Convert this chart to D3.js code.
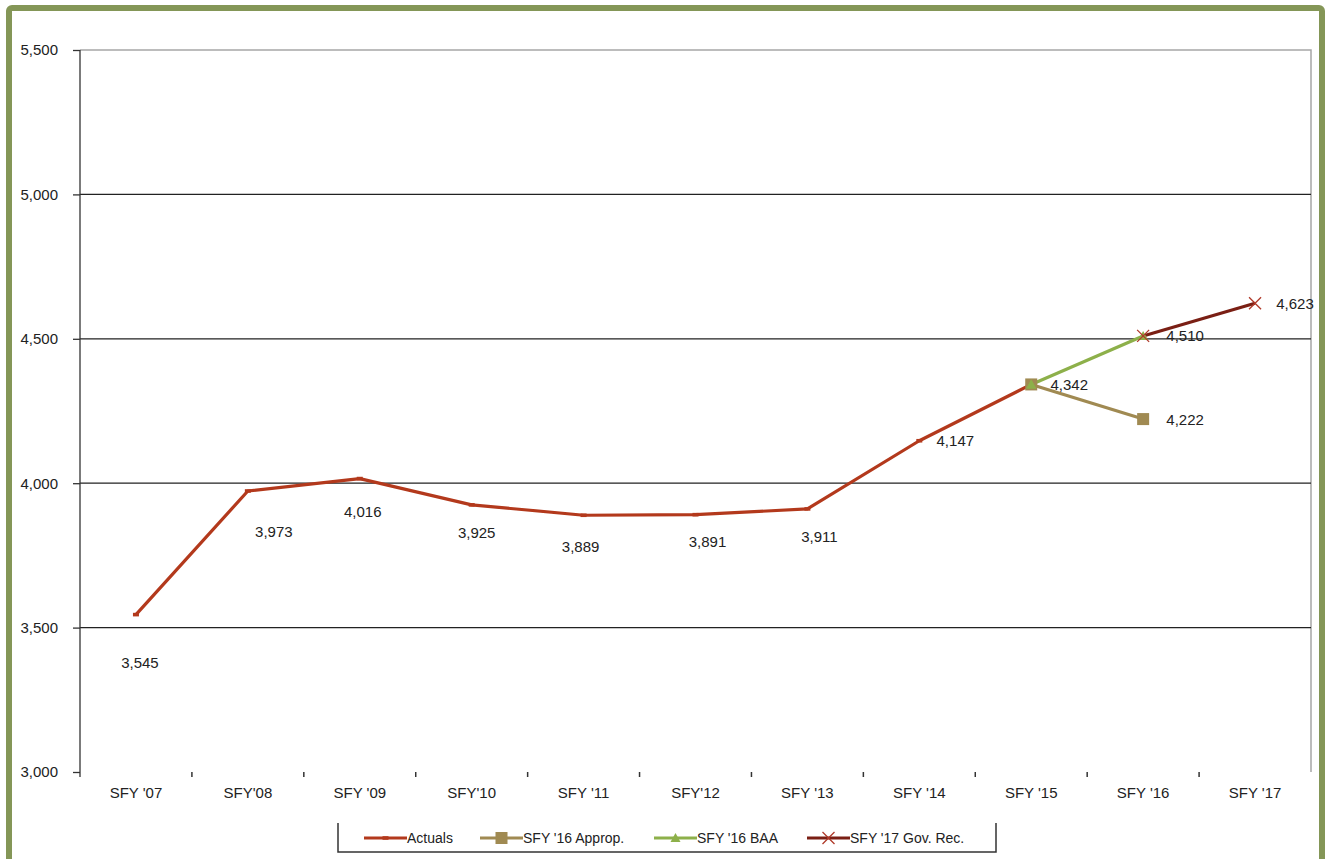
<!DOCTYPE html>
<html><head><meta charset="utf-8">
<script src="https://cdn.jsdelivr.net/npm/d3@7/dist/d3.min.js"></script>
<style>body{margin:0;background:#fff;}svg{display:block;font-family:"Liberation Sans",Arial,sans-serif;}</style>
</head><body>
<svg id="c" width="1328" height="859"></svg>
<script>
const categories = ["SFY '07","SFY'08","SFY '09","SFY'10","SFY '11","SFY'12","SFY '13","SFY '14","SFY '15","SFY '16","SFY '17"];
const actuals = [3545,3973,4016,3925,3889,3891,3911,4147,4342,null,null];
const approp = [null,null,null,null,null,null,null,null,4342,4222,null];
const baa = [null,null,null,null,null,null,null,null,4342,4510,null];
const govRec = [null,null,null,null,null,null,null,null,null,4510,4623];
const yTicks = [3000,3500,4000,4500,5000,5500];
const seriesNames = ["Actuals","SFY '16 Approp.","SFY '16 BAA","SFY '17 Gov. Rec."];

const svg = d3.select("#c");
const M = {l:80, r:1311, t:50, b:772};
const x = d3.scaleBand().domain(categories).range([M.l, M.r]);
const y = d3.scaleLinear().domain([3000,5500]).range([M.b, M.t]);
const cx = c => x(c) + x.bandwidth()/2;
const fmt = d3.format(",");

// frame
svg.append("rect").attr("x",9).attr("y",8).attr("width",1313).attr("height",900)
  .attr("rx",3).attr("fill","none").attr("stroke","#849657").attr("stroke-width",6);

// plot area border
svg.append("path").attr("d",`M${M.l},${M.t}H${M.r}V${M.b}`).attr("fill","none").attr("stroke","#a6a6a6").attr("stroke-width",1.5);

// gridlines
svg.append("g").selectAll("line").data(yTicks.filter(v=>v>3000&&v<5500)).join("line")
  .attr("x1",M.l).attr("x2",M.r).attr("y1",d=>y(d)).attr("y2",d=>y(d))
  .attr("stroke","#222").attr("stroke-width",1.3);

// y axis
const ya = svg.append("g").attr("transform",`translate(${M.l},0)`)
  .call(d3.axisLeft(y).tickValues(yTicks).tickFormat(fmt).tickSize(7).tickPadding(15));
ya.select(".domain").attr("d",`M0,${M.t}V${M.b+5}`).attr("stroke","#333").attr("stroke-width",1.3);
ya.selectAll(".tick line").attr("stroke","#333").attr("stroke-width",1.3);
ya.selectAll("text").attr("font-size",15).attr("fill","#222").attr("font-family","Liberation Sans, Arial, sans-serif");

// x axis (ticks at category boundaries)
const xa = svg.append("g").attr("transform",`translate(0,${M.b})`)
  .call(d3.axisBottom(x).tickSize(0).tickPadding(15));
xa.select(".domain").remove();
xa.selectAll("text").attr("font-size",15).attr("fill","#222").attr("font-family","Liberation Sans, Arial, sans-serif");
svg.append("g").selectAll("line").data(categories.slice(1)).join("line")
  .attr("x1",d=>x(d)).attr("x2",d=>x(d)).attr("y1",M.b).attr("y2",M.b+5)
  .attr("stroke","#333").attr("stroke-width",1.5);

const colors = ["#b3391c","#a08a52","#8db04a","#7a1f14"];
const seriesData = [actuals, approp, baa, govRec];
const line = d3.line().defined(d=>d.v!=null).x(d=>cx(d.c)).y(d=>y(d.v)).curve(d3.curveLinear);

seriesData.forEach((s,i)=>{
  const pts = s.map((v,j)=>({c:categories[j], v}));
  svg.append("path").datum(pts).attr("d",line).attr("fill","none")
    .attr("stroke",colors[i]).attr("stroke-width",3.2).attr("stroke-linejoin","round");
});

function marker(g, type, px, py, col){
  if(type===0){ g.append("rect").attr("x",px-3).attr("y",py-1.8).attr("width",6).attr("height",3.6).attr("fill",col); }
  else if(type===1){ g.append("rect").attr("x",px-6).attr("y",py-6).attr("width",12).attr("height",12).attr("fill",col); }
  else if(type===2){ g.append("path").attr("d",`M${px},${py-5}L${px+5},${py+4}L${px-5},${py+4}Z`).attr("fill",col); }
  else { g.append("path").attr("d",`M${px-6},${py-6}L${px+6},${py+6}M${px-6},${py+6}L${px+6},${py-6}`).attr("stroke","#b03a2a").attr("stroke-width",1.3); }
}
const mg = svg.append("g");
seriesData.forEach((s,i)=>{
  s.forEach((v,j)=>{ if(v!=null) marker(mg, i, cx(categories[j]), y(v), colors[i]); });
});
// BAA marker on top of approp square at SFY '15
marker(mg, 2, cx(categories[8]), y(baa[8]), colors[2]);

// data labels
const actOff = [[4,48],[26,41],[3,33],[5,28],[-3,31],[12,27],[12,28],[36,0],[38,0]];
const lg = svg.append("g").attr("font-size",15).attr("fill","#222").attr("text-anchor","middle").attr("dominant-baseline","central");
actuals.forEach((v,j)=>{ if(v!=null){ const o=actOff[j]; lg.append("text").attr("x",cx(categories[j])+o[0]).attr("y",y(v)+o[1]).text(fmt(v)); }});
lg.append("text").attr("x",cx(categories[9])+42).attr("y",y(approp[9])).text(fmt(approp[9]));
lg.append("text").attr("x",cx(categories[9])+42).attr("y",y(baa[9])).text(fmt(baa[9]));
lg.append("text").attr("x",cx(categories[10])+40).attr("y",y(govRec[10])).text(fmt(govRec[10]));

// legend
const leg = svg.append("g");
leg.append("path").attr("d","M338,823V852H996V823").attr("fill","none").attr("stroke","#333").attr("stroke-width",1.5);
const legX = [364,480,654,807];
seriesNames.forEach((n,i)=>{
  const lx = legX[i], ly = 838;
  leg.append("line").attr("x1",lx).attr("x2",lx+43).attr("y1",ly).attr("y2",ly).attr("stroke",colors[i]).attr("stroke-width",3);
  marker(leg, i, lx+21.5, ly, colors[i]);
  leg.append("text").attr("x",lx+43).attr("y",ly).attr("dominant-baseline","central")
    .attr("font-size",14).attr("fill","#222").text(n);
});
</script>
</body></html>
